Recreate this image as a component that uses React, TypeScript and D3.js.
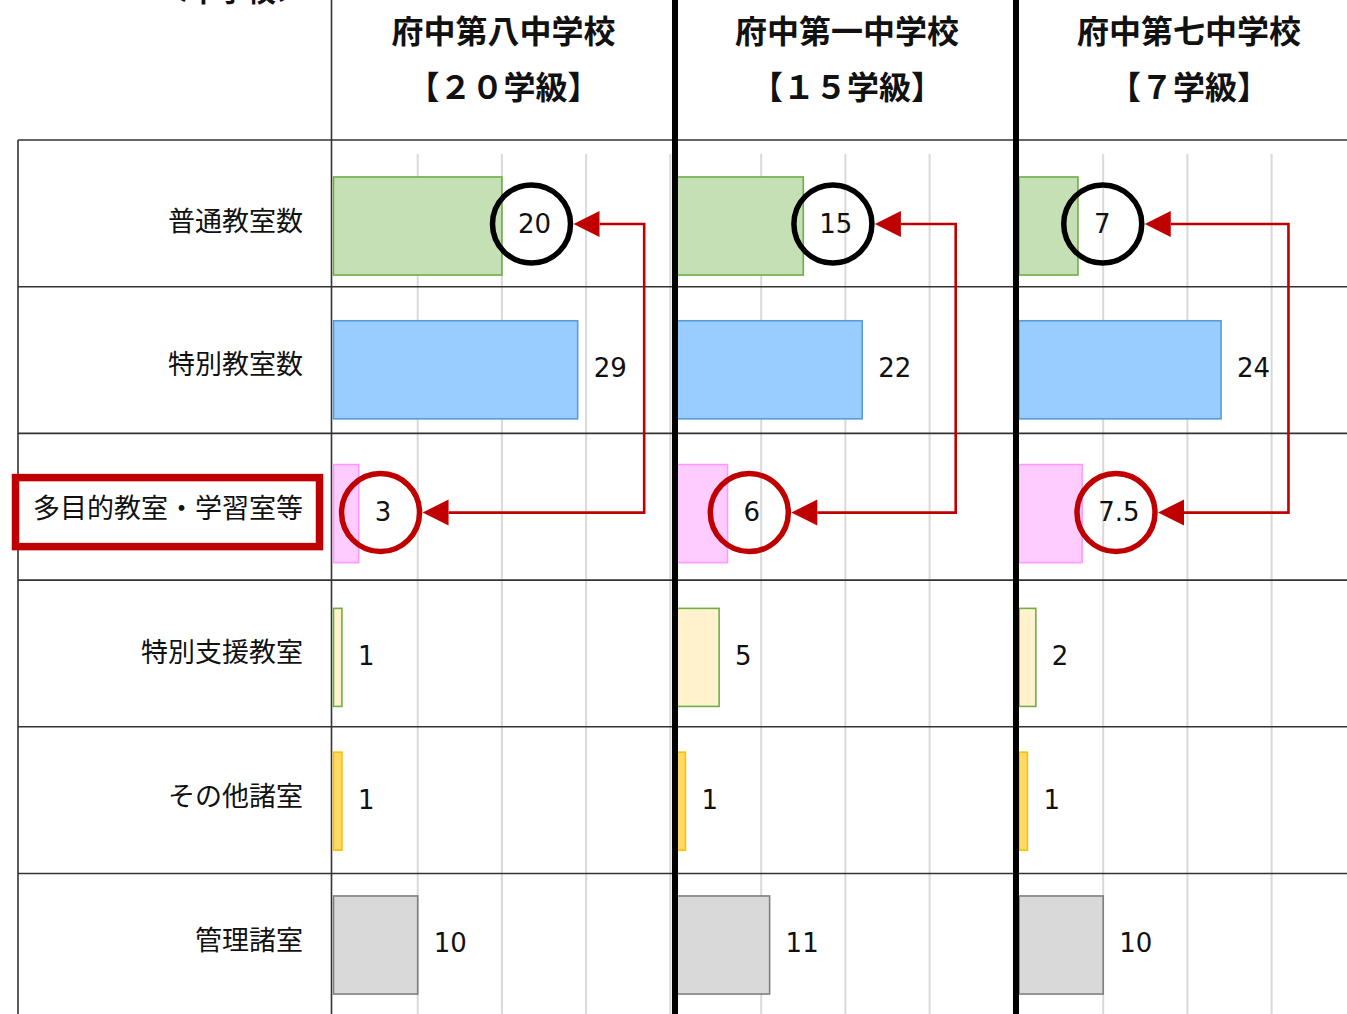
import React from "react";
import * as d3 from "d3";

// ---------- data ----------
const categories = ["普通教室数", "特別教室数", "多目的教室・学習室等", "特別支援教室", "その他諸室", "管理諸室"];
const schools = ["府中第八中学校", "府中第一中学校", "府中第七中学校"];
const classCounts = ["【２０学級】", "【１５学級】", "【７学級】"];
const valuesDai8 = [20, 29, 3, 1, 1, 10];
const valuesDai1 = [15, 22, 6, 5, 1, 11];
const valuesDai7 = [7, 24, 7.5, 2, 1, 10];
const seriesValues = [valuesDai8, valuesDai1, valuesDai7];
const gridTicks = [10, 20, 30, 40];
const barFills = ["#C5E0B4", "#99CCFF", "#FFCCFF", "#FFF2CC", "#FFD966", "#D9D9D9"];
const barStrokes = ["#70AD47", "#5B9BD5", "#FF99FF", "#70AD47", "#FFC000", "#7F7F7F"];
// annotation: elbow connector x (in value units) per panel
const arrowElbowValue = [36.9, 33.1, 32];
const blackCircleCategory = 0;
const redCircleCategory = 2;
const sectionTitle = "＜中学校＞";

const W = 1347;
const H = 1014;
const panelOrigins = [333.5, 677, 1019];
const panelWidth = 342;
const RED = "#C00000";

export default function App() {
  const x = d3.scaleLinear().domain([0, 40]).range([0, 336.8]);
  const y = d3
    .scaleBand<string>()
    .domain(categories)
    .range([154.1, 154.1 + 6 * 143.8])
    .paddingInner(0.318)
    .paddingOuter(0.159);
  const bw = y.bandwidth();
  const rowLines = d3.range(6).map((i) => 140 + i * 146.7);
  const valueFont = 26;
  const digitW = 15.6;
  const textWidth = (s: string) =>
    s.split("").reduce((a, c) => a + (c === "." ? 8.5 : digitW), 0);

  return (
    <div style={{ position: "fixed", left: 0, top: 0, width: W, height: H, background: "#fff" }}>
      <svg width={W} height={H} style={{ display: "block" }}>
        <rect x={0} y={0} width={W} height={H} fill="#fff" />

        {/* gridlines */}
        {panelOrigins.map((ox, p) =>
          gridTicks.map((t) => (
            <line
              key={`g${p}-${t}`}
              x1={ox + x(t)}
              x2={ox + x(t)}
              y1={154}
              y2={H}
              stroke="#D9D9D9"
              strokeWidth={2}
            />
          ))
        )}

        {/* table lines */}
        {rowLines.map((ly, i) => (
          <line key={`r${i}`} x1={18} x2={W} y1={ly} y2={ly} stroke="#333" strokeWidth={1.6} />
        ))}
        <line x1={18} x2={18} y1={140} y2={H} stroke="#333" strokeWidth={1.6} />
        <line x1={331.5} x2={331.5} y1={0} y2={H} stroke="#333" strokeWidth={1.6} />

        {/* section title (cut off at top, as in the source) */}
        <text
          x={305}
          y={2}
          textAnchor="end"
          fontFamily="'Noto Sans CJK JP'"
          fontWeight="bold"
          fontSize={29}
          fill="#111"
        >
          {sectionTitle}
        </text>

        {/* category labels */}
        {categories.map((c) => (
          <text
            key={c}
            x={303}
            y={(y(c) as number) + bw / 2 - 7}
            dominantBaseline="central"
            textAnchor="end"
            fontFamily="'Noto Sans CJK JP'"
            fontSize={27}
            fill="#111"
          >
            {c}
          </text>
        ))}
        {/* highlight box */}
        <rect
          x={15.5}
          y={(y(categories[redCircleCategory]) as number) + bw / 2 - 36}
          width={304}
          height={69}
          fill="none"
          stroke={RED}
          strokeWidth={7.5}
        />

        {/* panels */}
        {panelOrigins.map((ox, p) => {
          const vals = seriesValues[p];
          const cx = ox + panelWidth / 2 - 1;
          const topV = vals[blackCircleCategory];
          const botV = vals[redCircleCategory];
          const topLabel = String(topV);
          const botLabel = String(botV);
          const topCx = ox + x(topV) + 16 + textWidth(topLabel) / 2 - 2 + (topLabel.length === 1 ? 3 : 0);
          const botCx = ox + x(botV) + 16 + textWidth(botLabel) / 2 - 2;
          const topCy = (y(categories[blackCircleCategory]) as number) + bw / 2 - 2;
          const botCy = (y(categories[redCircleCategory]) as number) + bw / 2 - 1;
          const r = 39;
          const ex = ox + x(arrowElbowValue[p]);
          return (
            <g key={`p${p}`}>
              <text
                x={cx}
                y={29}
                dominantBaseline="central"
                textAnchor="middle"
                fontFamily="'Noto Sans CJK JP'"
                fontWeight="bold"
                fontSize={32}
                fill="#111"
              >
                {schools[p]}
              </text>
              <text
                x={cx}
                y={85}
                dominantBaseline="central"
                textAnchor="middle"
                fontFamily="'Noto Sans CJK JP'"
                fontWeight="bold"
                fontSize={32}
                fill="#111"
              >
                {classCounts[p]}
              </text>
              {categories.map((c, i) => (
                <rect
                  key={`b${i}`}
                  x={ox + x(0)}
                  y={y(c) as number}
                  width={x(vals[i])}
                  height={bw}
                  fill={barFills[i]}
                  stroke={barStrokes[i]}
                  strokeWidth={1.6}
                />
              ))}
              {categories.map((c, i) => (
                <text
                  key={`v${i}`}
                  x={ox + x(vals[i]) + 16}
                  y={(y(c) as number) + bw / 2 - 2 + 0.36 * valueFont}
                  fontFamily="'DejaVu Sans'"
                  fontSize={valueFont}
                  fill="#111"
                >
                  {String(vals[i])}
                </text>
              ))}
              {/* circles */}
              <circle cx={topCx} cy={topCy} r={r} fill="none" stroke="#000" strokeWidth={5.5} />
              <circle cx={botCx} cy={botCy} r={r} fill="none" stroke={RED} strokeWidth={5.5} />
              {/* elbow connector */}
              <path
                d={`M${topCx + r + 3 + 26},${topCy} L${ex},${topCy} L${ex},${botCy} L${botCx + r + 3 + 26},${botCy}`}
                fill="none"
                stroke={RED}
                strokeWidth={2.6}
              />
              <path d={`M${topCx + r + 3},${topCy} l26,-13 l0,26 Z`} fill={RED} />
              <path d={`M${botCx + r + 3},${botCy} l26,-13 l0,26 Z`} fill={RED} />
            </g>
          );
        })}

        {/* thick separators */}
        <line x1={675} x2={675} y1={0} y2={H} stroke="#000" strokeWidth={6} />
        <line x1={1016} x2={1016} y1={0} y2={H} stroke="#000" strokeWidth={6} />
      </svg>
    </div>
  );
}
